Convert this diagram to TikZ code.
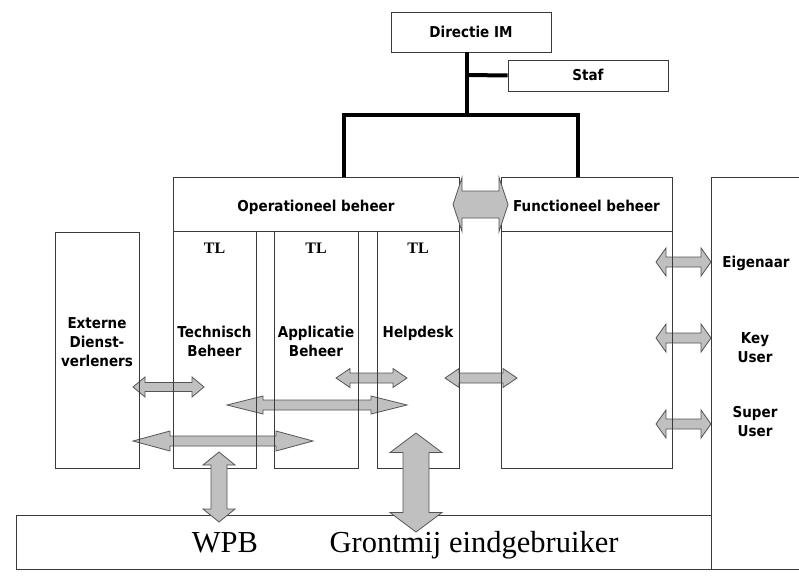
\documentclass[tikz,border=0pt]{standalone}
\usepackage{fontspec}
\newfontfamily\lblfont{DejaVu Sans}[FakeStretch=0.9]
\newfontfamily\serfont{Liberation Serif}
\definecolor{boxline}{HTML}{3A3A3A}
\definecolor{arrowfill}{HTML}{C0C0C0}
\definecolor{arrowline}{HTML}{555555}

% horizontal double block arrow: x-left, x-right, y, head length, shaft half-width, head half-width
\newcommand\hdarrow[6]{%
  \draw[blockarrow] (#1,#3) -- ({#1+#4},{#3-#6}) -- ({#1+#4},{#3-#5}) -- ({#2-#4},{#3-#5})
    -- ({#2-#4},{#3-#6}) -- (#2,#3) -- ({#2-#4},{#3+#6}) -- ({#2-#4},{#3+#5})
    -- ({#1+#4},{#3+#5}) -- ({#1+#4},{#3+#6}) -- cycle;}
% vertical double block arrow: y-top, y-bottom, x, head length, shaft half-width, head half-width
\newcommand\vdarrow[6]{%
  \draw[blockarrow] (#3,#1) -- ({#3-#6},{#1+#4}) -- ({#3-#5},{#1+#4}) -- ({#3-#5},{#2-#4})
    -- ({#3-#6},{#2-#4}) -- (#3,#2) -- ({#3+#6},{#2-#4}) -- ({#3+#5},{#2-#4})
    -- ({#3+#5},{#1+#4}) -- ({#3+#6},{#1+#4}) -- cycle;}

\begin{document}
\begin{tikzpicture}[x=1pt,y=-1pt,
  box/.style={draw=boxline, line width=0.9pt, rectangle, inner sep=0pt},
  orgline/.style={draw=black, line width=4pt},
  blockarrow/.style={fill=arrowfill, draw=arrowline, line width=0.8pt, line join=miter},
  lbl/.style={font=\lblfont\bfseries\fontsize{15}{18.7}\selectfont, align=center, inner sep=0pt, anchor=base},
  tl/.style={font=\serfont\bfseries\fontsize{16}{18}\selectfont, inner sep=0pt, anchor=base},
  big/.style={font=\serfont\fontsize{30.5}{36}\selectfont, inner sep=0pt, anchor=base}]
\useasboundingbox[fill=white] (0,0) rectangle (799,575);

% horizontal exchange arrows (lying under the box outlines)
\hdarrow{656}{711}{262}{10}{5}{14}
\hdarrow{656}{711}{338}{10}{5}{14}
\hdarrow{656}{711}{424}{10}{5}{14}
\hdarrow{133}{204}{387}{12}{4.5}{10}
\hdarrow{133}{313}{441}{37}{5}{10}
\hdarrow{227}{407}{405}{36}{5}{9}
\hdarrow{336}{407}{378}{14}{5}{9.5}
\hdarrow{445}{517}{378}{14}{5}{9.5}

% management
\node[box, minimum width=160pt, minimum height=40pt] (dir) at (471,32) {};
\node[box, minimum width=160pt, minimum height=31pt] (staf) at (588,75.5) {};
\coordinate (hub) at (467,115);
\coordinate (stafjoint) at (467,75);
\coordinate (opsjoint) at (344,177);
\coordinate (funcjoint) at (578,177);
\draw[orgline] (dir.south -| hub) -- (hub);
\draw[orgline] (stafjoint) -- (staf.west);
\draw[orgline] (opsjoint) |- (hub) -| (funcjoint);

% departments
\node[box, minimum width=286pt, minimum height=54pt] (ops) at (316,204) {};
\node[box, minimum width=171pt, minimum height=54pt] (func) at (586.5,204) {};
\node[box, minimum width=171pt, minimum height=237pt] (funcbody) at (586.5,349.5) {};
\node[box, minimum width=83pt, minimum height=237pt] (tech) at (214.5,349.5) {};
\node[box, minimum width=84pt, minimum height=237pt] (appl) at (316,349.5) {};
\node[box, minimum width=82pt, minimum height=237pt] (help) at (418,349.5) {};
\node[box, minimum width=84pt, minimum height=236pt] (ext) at (97,350) {};
\node[box, minimum width=695pt, minimum height=54pt] (users) at (363.5,542) {};
% business side, open to the right
\draw[boxline, line width=0.9pt] (800,177) -- (711,177) -- (711,569) -- (800,569);

% arrows lying over the outlines
\hdarrow{453}{508}{204.5}{9}{13.5}{27}
\vdarrow{452}{522}{219}{13}{8}{16}
\vdarrow{433}{532}{416}{19.5}{13}{26}

% labels (multi-line labels are placed by the baseline of their last line)
\node[lbl] (dirtxt) at (471,38) {Directie IM};
\node[lbl] (staftxt) at (588,81) {Staf};
\node[lbl] (opstxt) at (316,211) {Operationeel beheer};
\node[lbl] (functxt) at (586.5,211) {Functioneel beheer};
\node[tl] (tl1) at (214.5,253) {TL};
\node[tl] (tl2) at (316,253) {TL};
\node[tl] (tl3) at (418,253) {TL};
\node[lbl] (techtxt) at (214.5,356) {Technisch\\Beheer};
\node[lbl] (appltxt) at (316,356) {Applicatie\\Beheer};
\node[lbl] (helptxt) at (418,337) {Helpdesk};
\node[lbl] (exttxt) at (97,366) {Externe\\Dienst-\\verleners};
\node[lbl] (owner) at (756,267) {Eigenaar};
\node[lbl] (keyuser) at (755,362) {Key\\User};
\node[lbl] (superuser) at (755,436) {Super\\User};
\node[big] (wpb) at (225,552) {WPB};
\node[big] (grontmij) at (474,552) {Grontmij eindgebruiker};
\end{tikzpicture}
\end{document}
